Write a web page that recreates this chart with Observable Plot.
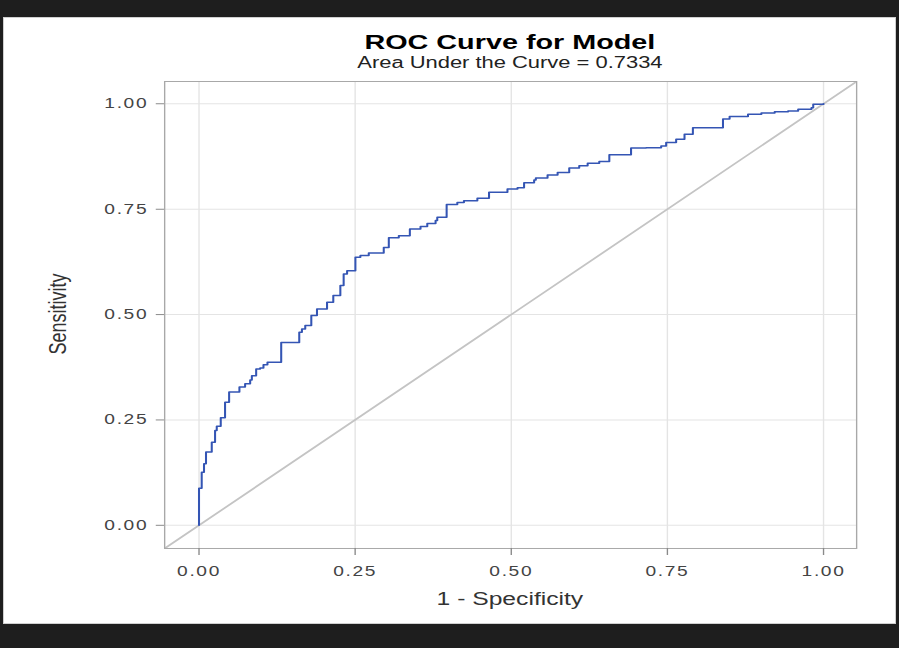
<!DOCTYPE html>
<html>
<head>
<meta charset="utf-8">
<script src="https://cdn.jsdelivr.net/npm/d3@7"></script>
<script src="https://cdn.jsdelivr.net/npm/@observablehq/plot@0.6"></script>
<style>
  html, body { margin: 0; padding: 0; }
  body { background: #1e1e1e; width: 899px; height: 648px; overflow: hidden; position: relative; font-family: "Liberation Sans", Arial, sans-serif; }
  #panel { position: absolute; left: 3px; top: 17px; width: 893px; height: 607px; background: #fff; box-sizing: border-box; border: 1px solid #cfcfcf; }
  #wrap { position: absolute; left: 3px; top: 17px; width: 651.8px; height: 607px; transform: scaleX(1.37); transform-origin: 0 0; }
  .t { position: absolute; white-space: nowrap; line-height: 1; }
  #title { left: 120px; width: 500px; text-align: center; top: 14.2px; font-size: 21px; font-weight: bold; color: #000; }
  #subtitle { left: 120px; width: 500px; text-align: center; top: 37.5px; font-size: 16px; color: #222; }
  #xlabel { left: 120px; width: 500px; text-align: center; top: 572.8px; font-size: 18px; color: #333; }
  #ylabel { left: 39.6px; top: 297px; font-size: 18px; color: #333; transform: translate(-50%, -50%) rotate(-90deg); }
  #chart { position: absolute; left: 0; top: 56px; }
  #chart [aria-label$="tick label"] text { letter-spacing: 1.2px; }
</style>
</head>
<body>
<div id="panel"></div>
<div id="wrap">
  <div class="t" id="title">ROC Curve for Model</div>
  <div class="t" id="subtitle">Area Under the Curve = 0.7334</div>
  <div id="chart"></div>
  <div class="t" id="xlabel">1 - Specificity</div>
  <div class="t" id="ylabel">Sensitivity</div>
</div>
<script>
// ROC curve vertices (1 - specificity, sensitivity)
const fpr = [0, 0, 0.0043, 0.008, 0.0112, 0.0204, 0.0257, 0.0284, 0.0348, 0.0417, 0.0482, 0.0647, 0.0738, 0.0819, 0.0846, 0.0915, 0.0979, 0.1032, 0.1096, 0.1316, 0.1605, 0.1648, 0.1701, 0.1798, 0.1889, 0.2050, 0.2150, 0.2263, 0.2316, 0.2371, 0.2504, 0.2584, 0.2718, 0.2958, 0.3039, 0.3199, 0.3376, 0.3547, 0.3655, 0.3788, 0.3815, 0.3965, 0.4136, 0.4242, 0.4457, 0.4644, 0.4939, 0.5100, 0.5205, 0.5366, 0.5393, 0.5581, 0.5742, 0.5928, 0.6088, 0.6223, 0.6409, 0.6570, 0.6918, 0.7159, 0.7400, 0.7480, 0.7640, 0.7774, 0.7908, 0.8390, 0.8496, 0.8791, 0.9005, 0.9218, 0.9433, 0.9594, 0.9807, 0.9835, 1.0];
const tpr = [0, 0.088, 0.126, 0.146, 0.174, 0.197, 0.225, 0.235, 0.255, 0.292, 0.316, 0.328, 0.336, 0.345, 0.355, 0.371, 0.373, 0.381, 0.387, 0.434, 0.458, 0.466, 0.474, 0.498, 0.513, 0.529, 0.545, 0.569, 0.596, 0.604, 0.636, 0.640, 0.646, 0.659, 0.682, 0.687, 0.703, 0.709, 0.716, 0.723, 0.731, 0.761, 0.766, 0.770, 0.776, 0.790, 0.798, 0.801, 0.813, 0.819, 0.824, 0.831, 0.837, 0.848, 0.853, 0.859, 0.863, 0.879, 0.895, 0.896, 0.900, 0.908, 0.916, 0.928, 0.943, 0.964, 0.970, 0.975, 0.978, 0.981, 0.983, 0.987, 0.991, 0.999, 1.0];
const tickValues = [0, 0.25, 0.5, 0.75, 1];
const axisDomain = [-0.055, 1.053];
const refLine = [-0.06, 1.06];

const roc = fpr.map((x, i) => ({x, y: tpr[i]}));

const chart = Plot.plot({
  width: 651.8,
  height: 515,
  marginLeft: 117.5,
  marginRight: 29.2,
  marginTop: 8,
  marginBottom: 40,
  style: {fontFamily: "'Liberation Sans', Arial, sans-serif", fontSize: "14px", color: "#333", background: "transparent"},
  x: {domain: axisDomain},
  y: {domain: axisDomain},
  marks: [
    Plot.gridX(tickValues, {stroke: "#e4e4e4", strokeOpacity: 1}),
    Plot.gridY(tickValues, {stroke: "#e4e4e4", strokeOpacity: 1}),
    Plot.line(refLine, {x: d => d, y: d => d, stroke: "#c4c4c4", strokeWidth: 1.6, clip: true}),
    Plot.line(roc, {x: "x", y: "y", curve: "step-after", stroke: "#3455b4", strokeWidth: 1.5}),
    Plot.frame({stroke: "#a8a8a8"}),
    Plot.axisX(tickValues, {tickFormat: d3.format(".2f"), tickSize: 7, tickPadding: 11, stroke: "#8a8a8a", fill: "#444", label: null}),
    Plot.axisY(tickValues, {tickFormat: d3.format(".2f"), tickSize: 6, tickPadding: 6, stroke: "#8a8a8a", fill: "#444", label: null})
  ]
});
document.getElementById("chart").appendChild(chart);
</script>
</body>
</html>
